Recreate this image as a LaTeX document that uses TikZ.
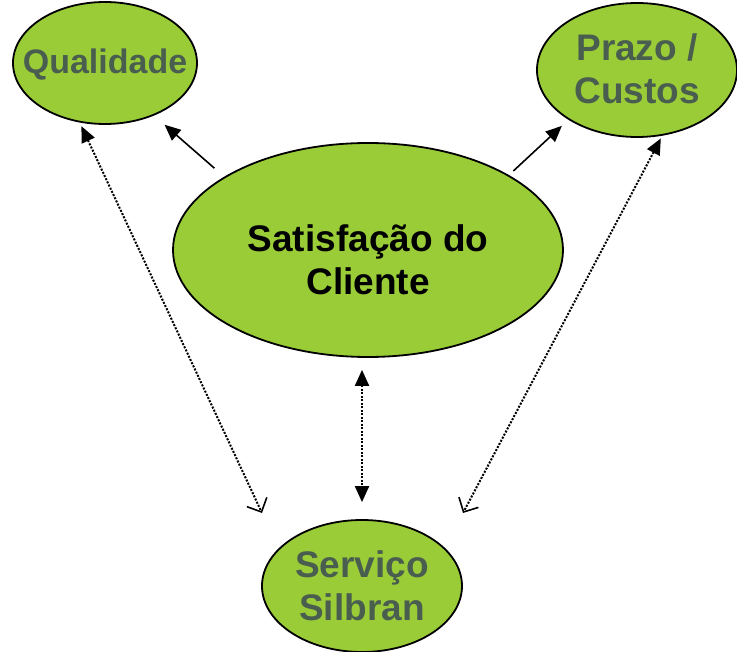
\documentclass[tikz,border=0pt]{standalone}
\usepackage{fontspec}
\setmainfont{Liberation Sans}
\usetikzlibrary{arrows.meta,shapes.geometric}
\definecolor{leaf}{RGB}{154,204,56}
\definecolor{slate}{RGB}{74,94,80}

\begin{document}
\begin{tikzpicture}[x=1pt,y=-1pt,line width=1.6pt,
  oval/.style={ellipse,draw=black,fill=leaf,inner sep=0pt,line width=1.8pt},
  word/.style={font=\bfseries\fontsize{37}{43}\selectfont,text=slate,align=center},
  fullhead/.tip={Triangle[length=16pt,width=14pt]},
  openhead/.tip={Straight Barb[length=11pt,width=22pt,line width=1.6pt]},
  dots/.style={dash pattern=on 2pt off 1.5pt,line width=2pt}]

\useasboundingbox (0,0) rectangle (737,652);

% Ellipses
\node[oval,minimum width=184pt,minimum height=122pt] (qual) at (105,63) {};
\node[oval,minimum width=200pt,minimum height=134pt] (prazo) at (637,70) {};
\node[oval,minimum width=390pt,minimum height=214pt] (cent) at (368,250) {};
\node[oval,minimum width=200pt,minimum height=132pt] (serv) at (362,586) {};

% Free ends near the bottom ellipse
\coordinate (servNW) at (262,513);
\coordinate (servNE) at (463,513);

% Labels for ellipses
\node[word,font=\bfseries\fontsize{34}{40}\selectfont,yshift=-2pt] (qualtxt) at (qual) {Qualidade};
\node[word,yshift=1pt] (prazotxt) at (prazo) {Prazo /\\Custos};
\node[word,text=black,yshift=-10pt] (centtxt) at (cent) {Satisfação do\\Cliente};
\node[word,yshift=0pt] (servtxt) at (serv) {Serviço\\Silbran};

% Solid arrows out of the centre
\draw[-{fullhead},shorten <=13pt,shorten >=14pt] (cent.153) -- (qual.-47);
\draw[-{fullhead},shorten <=6pt,shorten >=9pt] (cent.28) -- (prazo.216);

% Dotted arrows
\draw[dots,{fullhead}-{openhead},shorten <=4pt] (qual.247) -- (servNW);
\draw[dots,{fullhead}-{openhead},shorten <=3pt] (prazo.-69.5) -- (servNE);
\draw[dots,{fullhead}-{fullhead},shorten <=12pt,shorten >=17pt] (serv.north |- cent.south) -- (serv.north);

\end{tikzpicture}
\end{document}
